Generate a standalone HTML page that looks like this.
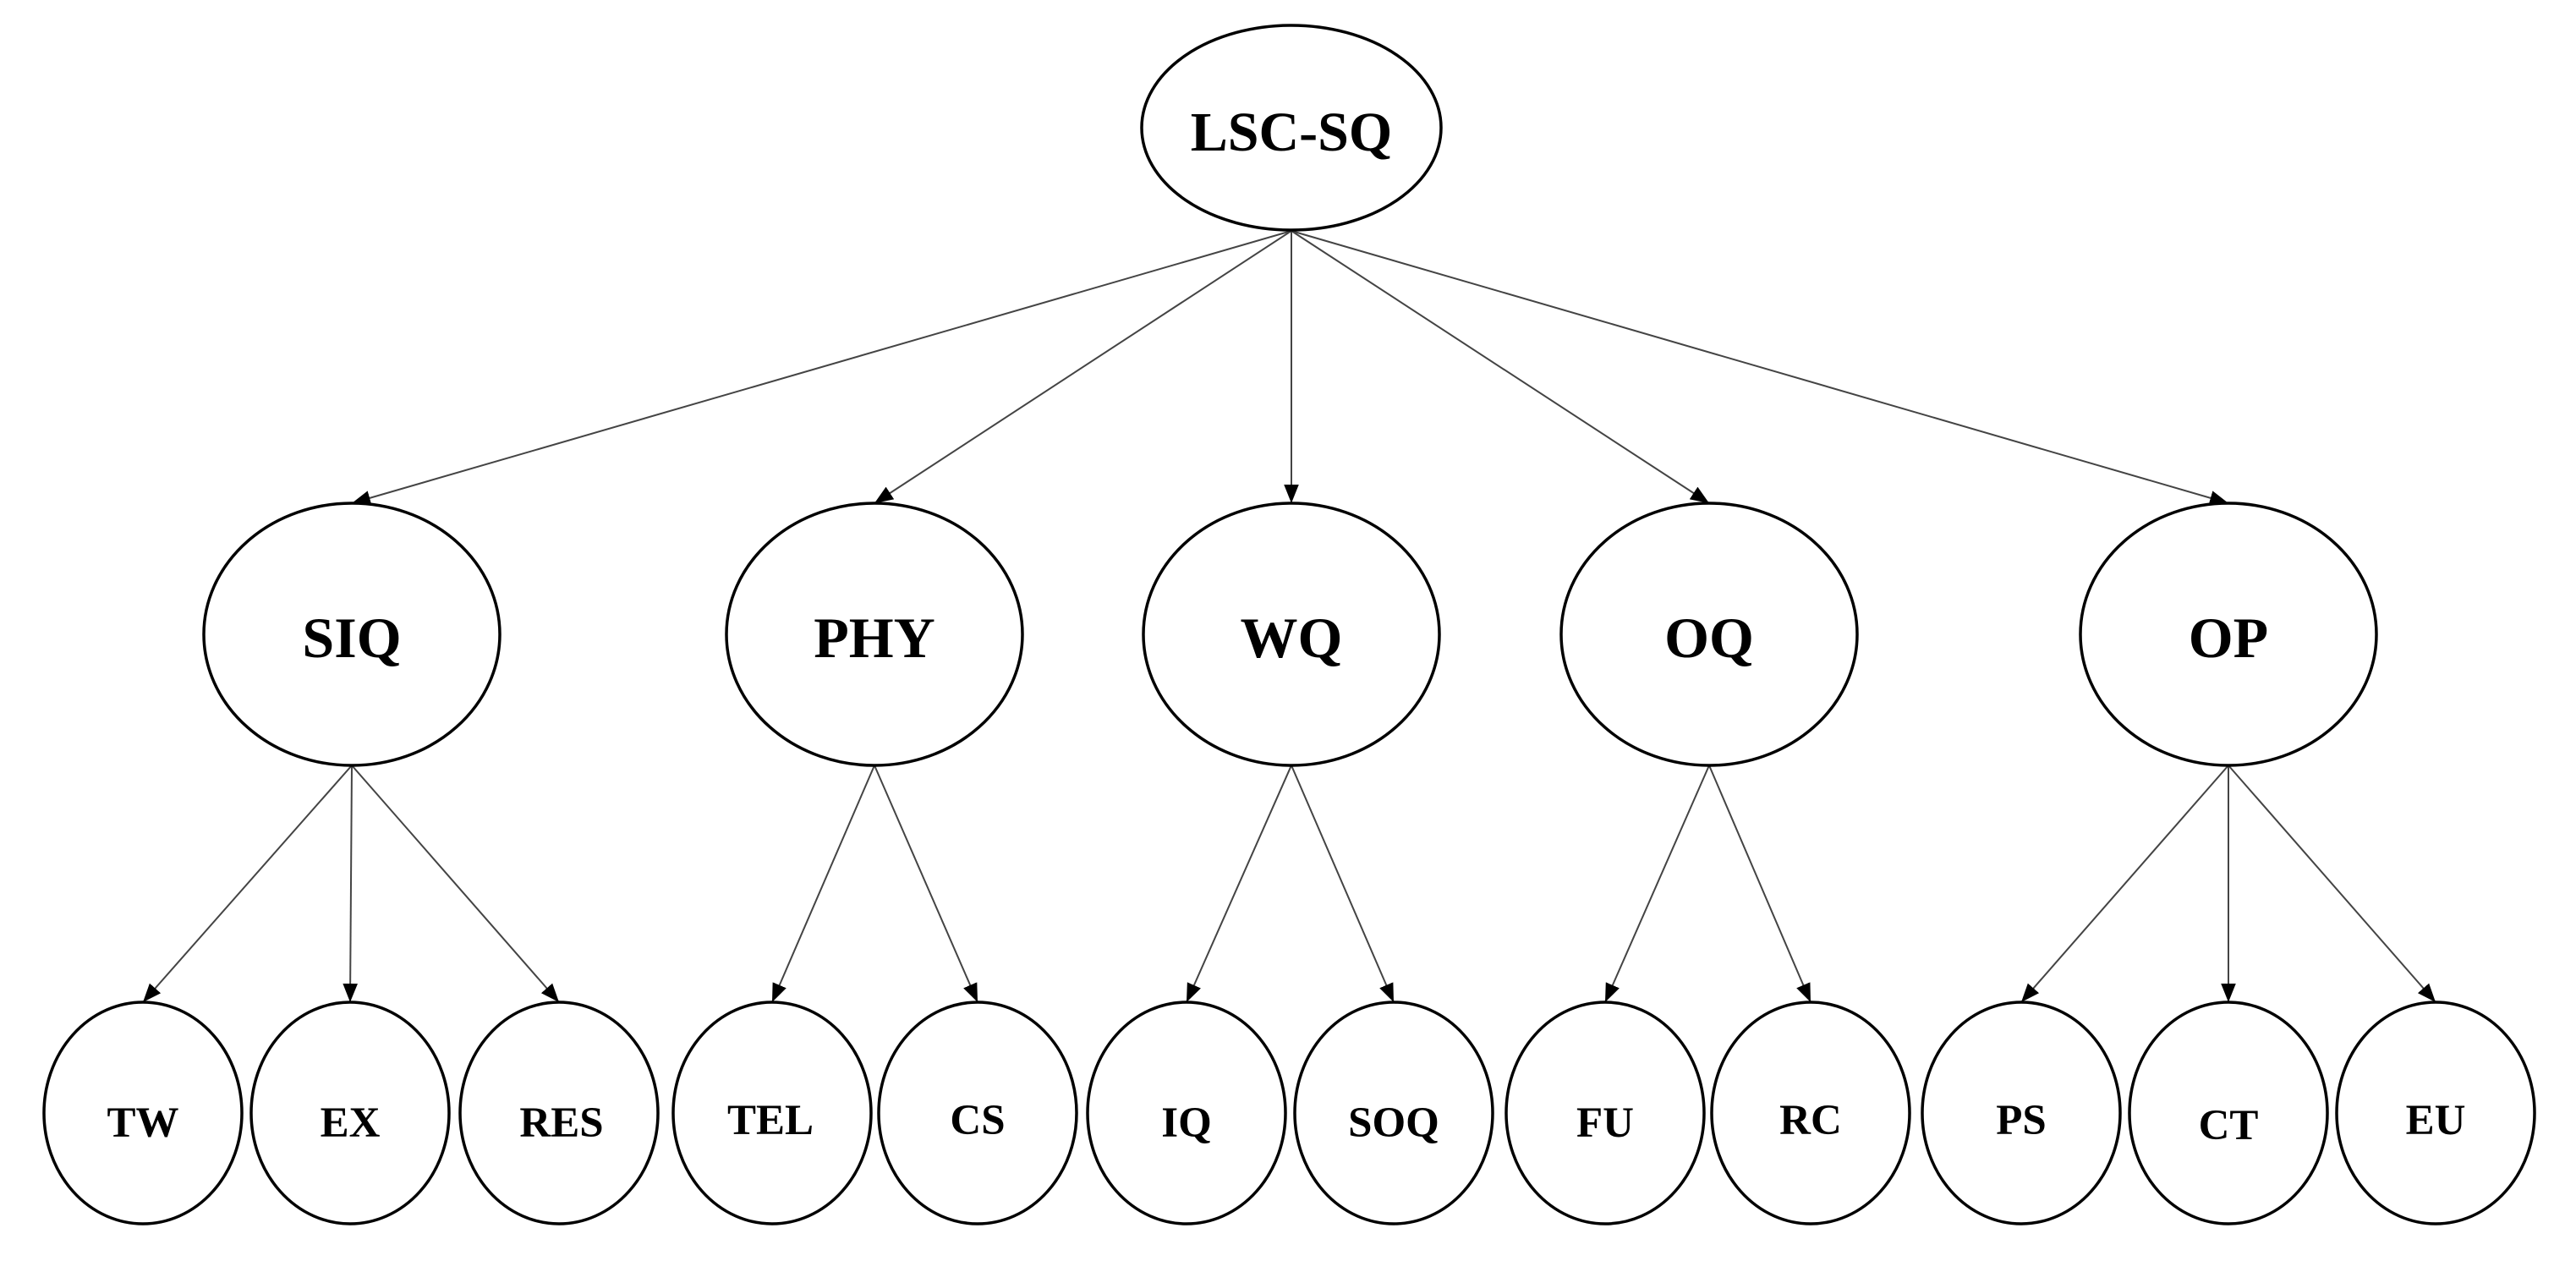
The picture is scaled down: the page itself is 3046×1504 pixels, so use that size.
<!DOCTYPE html>
<html><head><meta charset="utf-8"><style>
html,body{margin:0;padding:0;background:#fff;}
svg{display:block;}
text{font-family:"Liberation Serif",serif;font-weight:bold;fill:#000;text-anchor:middle;}
</style></head><body>
<svg width="3046" height="1504" viewBox="0 0 3046 1504" xmlns="http://www.w3.org/2000/svg">
<defs>
<marker id="ar" viewBox="0 0 20 16" refX="20" refY="8" markerWidth="22" markerHeight="18" orient="auto" markerUnits="userSpaceOnUse">
<path d="M0,0 L20,8 L0,16 z" fill="#000"/>
</marker>
</defs>
<g stroke="#444" stroke-width="2" fill="none" marker-end="url(#ar)">
<line x1="1527" y1="273" x2="416" y2="595"/>
<line x1="1527" y1="273" x2="1034" y2="595"/>
<line x1="1527" y1="273" x2="1527" y2="595"/>
<line x1="1527" y1="273" x2="2021" y2="595"/>
<line x1="1527" y1="273" x2="2635" y2="595"/>
<line x1="416" y1="905" x2="169" y2="1185"/>
<line x1="416" y1="905" x2="414" y2="1185"/>
<line x1="416" y1="905" x2="661" y2="1185"/>
<line x1="1034" y1="905" x2="913" y2="1185"/>
<line x1="1034" y1="905" x2="1156" y2="1185"/>
<line x1="1527" y1="905" x2="1403" y2="1185"/>
<line x1="1527" y1="905" x2="1648" y2="1185"/>
<line x1="2021" y1="905" x2="1898" y2="1185"/>
<line x1="2021" y1="905" x2="2141" y2="1185"/>
<line x1="2635" y1="905" x2="2390" y2="1185"/>
<line x1="2635" y1="905" x2="2635" y2="1185"/>
<line x1="2635" y1="905" x2="2880" y2="1185"/>
</g>
<g stroke="#000" stroke-width="3.5" fill="#fff">
<ellipse cx="1527" cy="151" rx="177" ry="121"/>
<ellipse cx="416" cy="750" rx="175" ry="155"/>
<ellipse cx="1034" cy="750" rx="175" ry="155"/>
<ellipse cx="1527" cy="750" rx="175" ry="155"/>
<ellipse cx="2021" cy="750" rx="175" ry="155"/>
<ellipse cx="2635" cy="750" rx="175" ry="155"/>
<ellipse cx="169" cy="1316" rx="117" ry="131"/>
<ellipse cx="414" cy="1316" rx="117" ry="131"/>
<ellipse cx="661" cy="1316" rx="117" ry="131"/>
<ellipse cx="913" cy="1316" rx="117" ry="131"/>
<ellipse cx="1156" cy="1316" rx="117" ry="131"/>
<ellipse cx="1403" cy="1316" rx="117" ry="131"/>
<ellipse cx="1648" cy="1316" rx="117" ry="131"/>
<ellipse cx="1898" cy="1316" rx="117" ry="131"/>
<ellipse cx="2141" cy="1316" rx="117" ry="131"/>
<ellipse cx="2390" cy="1316" rx="117" ry="131"/>
<ellipse cx="2635" cy="1316" rx="117" ry="131"/>
<ellipse cx="2880" cy="1316" rx="117" ry="131"/>
</g>
<text x="1527" y="178" font-size="66">LSC-SQ</text>
<text x="416" y="777" font-size="68">SIQ</text>
<text x="1034" y="777" font-size="68">PHY</text>
<text x="1527" y="777" font-size="68">WQ</text>
<text x="2021" y="777" font-size="68">OQ</text>
<text x="2635" y="777" font-size="68">OP</text>
<text x="169" y="1344" font-size="51">TW</text>
<text x="414" y="1344" font-size="51">EX</text>
<text x="664" y="1344" font-size="51">RES</text>
<text x="911" y="1341" font-size="51">TEL</text>
<text x="1156" y="1341" font-size="51">CS</text>
<text x="1403" y="1344" font-size="51">IQ</text>
<text x="1648" y="1344" font-size="51">SOQ</text>
<text x="1898" y="1344" font-size="51">FU</text>
<text x="2141" y="1341" font-size="51">RC</text>
<text x="2390" y="1341" font-size="51">PS</text>
<text x="2635" y="1347" font-size="51">CT</text>
<text x="2880" y="1341" font-size="51">EU</text>
</svg>
</body></html>
